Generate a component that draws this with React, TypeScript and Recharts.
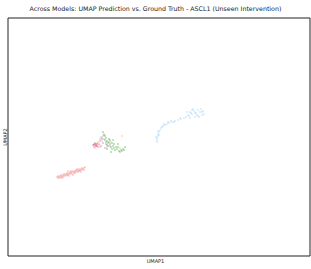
import React from 'react';
import {
  ScatterChart,
  Scatter,
  XAxis,
  YAxis,
  ReferenceArea,
} from 'recharts';

// UMAP coordinates
const groundTruth = [
  [4.9, 7.9], [5.0, 8.0], [5.1, 7.9], [5.2, 8.0], [5.3, 8.1], [5.3, 7.9], [5.4, 8.0], [5.5, 8.1],
  [5.6, 8.0], [5.6, 8.2], [5.7, 8.1], [5.8, 8.2], [5.8, 8.0], [5.9, 8.3], [6.0, 8.2], [6.0, 8.1],
  [6.1, 8.3], [6.2, 8.4], [6.2, 8.2], [6.3, 8.3], [6.4, 8.4], [6.4, 8.2], [6.5, 8.5], [6.6, 8.4],
  [6.6, 8.3], [6.7, 8.5], [6.8, 8.6], [6.8, 8.4], [6.9, 8.5], [7.0, 8.6], [7.0, 8.4], [7.1, 8.7],
  [7.2, 8.6], [7.2, 8.5], [7.3, 8.7], [7.4, 8.8], [7.4, 8.6], [7.5, 8.7], [7.6, 8.8], [7.7, 8.9],
  [5.5, 7.9], [5.9, 8.1], [6.3, 8.5], [6.7, 8.3], [7.1, 8.5], [5.2, 7.8], [6.1, 8.0], [6.9, 8.7],
  [7.6, 8.6], [5.0, 7.8], [5.4, 7.8], [6.5, 8.1], [7.3, 8.4], [6.0, 8.5],
];

const modelA = [
  [14.9, 11.6], [14.9, 11.8], [15.0, 12.0], [15.0, 12.2], [15.1, 12.4], [15.2, 12.6], [15.3, 12.8],
  [15.5, 13.0], [15.7, 13.1], [15.9, 13.2], [16.1, 13.3], [16.4, 13.4], [16.7, 13.5], [17.0, 13.6],
  [17.3, 13.7], [17.6, 13.8], [14.8, 11.9], [15.0, 12.5], [15.4, 12.9], [16.0, 13.4], [16.6, 13.4],
  [17.2, 13.8], [14.9, 11.4], [15.1, 12.1], [15.6, 13.2], [16.3, 13.5],
  [18.0, 14.1], [18.2, 14.4], [18.4, 14.2], [18.6, 14.5], [18.8, 14.3], [19.0, 14.6], [19.2, 14.4],
  [19.4, 14.1], [18.7, 13.9], [18.2, 13.8], [19.1, 13.9], [19.5, 14.5], [17.9, 14.4], [18.5, 14.7],
  [18.9, 14.1], [19.3, 14.7], [18.1, 14.0], [19.6, 14.2], [18.3, 14.3], [18.7, 14.3], [17.8, 13.9],
  [19.0, 14.0], [18.4, 14.6], [19.4, 14.4],
];

const modelB = [
  [9.5, 12.4], [9.6, 12.1], [9.7, 11.6], [9.8, 11.4], [9.9, 11.5], [10.0, 11.3], [10.1, 11.4],
  [10.2, 11.2], [10.0, 11.0], [10.3, 10.9], [10.4, 10.7], [10.6, 10.8], [10.7, 10.6], [10.5, 11.0],
  [10.9, 10.7], [11.1, 10.5], [11.3, 10.6], [11.5, 10.7], [10.8, 10.9], [10.2, 11.6], [9.8, 11.8],
  [10.4, 11.3], [11.0, 10.9], [11.2, 10.4], [9.9, 11.1], [9.7, 12.0], [10.1, 11.7], [10.6, 11.2],
  [11.4, 10.5], [11.6, 10.6], [10.5, 11.6], [11.0, 11.2], [11.7, 10.9], [9.9, 10.7], [10.3, 10.4],
];

const modelC = [
  [8.5, 11.1], [8.7, 11.3], [8.9, 11.0], [9.1, 11.2], [9.3, 11.0], [9.5, 11.3], [9.2, 11.5],
  [8.8, 11.1], [9.7, 10.8], [10.2, 11.0], [9.0, 10.9], [9.4, 11.7], [8.6, 10.9], [9.8, 11.2],
];

const modelD = [
  [8.6, 11.2], [8.7, 10.8], [8.9, 11.3], [9.1, 11.1], [9.2, 10.9], [8.8, 11.0], [9.4, 11.5],
  [9.6, 12.2], [10.3, 11.4], [11.2, 10.8], [9.0, 11.4], [11.4, 12.0], [9.9, 10.9],
];

const modelE = [[8.6, 11.1], [8.7, 11.2], [8.8, 11.0], [8.9, 11.2]];

const modelF = [[9.3, 11.9], [9.4, 11.8], [9.5, 12.0], [9.6, 11.7], [9.2, 11.7]];

const toPts = (arr: number[][]) => arr.map(([x, y]) => ({ x, y }));

const dot = (r: number, op: number) => (props: any) => (
  <circle cx={props.cx} cy={props.cy} r={r} fill={props.fill} fillOpacity={op} />
);

const series = [
  { name: 'Ground Truth', data: groundTruth, color: '#f08080' },
  { name: 'Model A', data: modelA, color: '#87cefa' },
  { name: 'Model B', data: modelB, color: '#2ca02c' },
  { name: 'Model C', data: modelC, color: '#ba55d3' },
  { name: 'Model D', data: modelD, color: '#f4a460' },
  { name: 'Model E', data: modelE, color: '#d62728' },
  { name: 'Model F', data: modelF, color: '#a0a0a0' },
];

export default function App() {
  return (
    <div style={{ position: 'fixed', left: 0, top: 0, width: 311, height: 269, background: '#fff', fontFamily: 'DejaVu Sans' }}>
      <div style={{ position: 'absolute', top: 5, left: 0, width: 311, textAlign: 'center', fontSize: 6.3, color: '#222' }}>
        Across Models: UMAP Prediction vs. Ground Truth - ASCL1 (Unseen Intervention)
      </div>
      <ScatterChart width={311} height={269} margin={{ top: 18, right: 1, bottom: 13, left: 8 }}>
        <XAxis type="number" dataKey="x" domain={[0, 30.2]} hide />
        <YAxis type="number" dataKey="y" domain={[0, 23.8]} hide />
        <ReferenceArea x1={0} x2={30.2} y1={0} y2={23.8} fill="none" stroke="#222" strokeWidth={1} />
        {series.map((s) => (
          <Scatter
            key={s.name}
            name={s.name}
            data={toPts(s.data)}
            fill={s.color}
            shape={dot(0.7, 0.8)}
            isAnimationActive={false}
          />
        ))}
      </ScatterChart>
      <div style={{ position: 'absolute', top: 258, left: 0, width: 311, textAlign: 'center', fontSize: 5, color: '#222' }}>
        UMAP1
      </div>
      <div
        style={{
          position: 'absolute',
          left: 5,
          top: 137,
          fontSize: 5,
          color: '#222',
          transform: 'translate(-50%, -50%) rotate(-90deg)',
          whiteSpace: 'nowrap',
        }}
      >
        UMAP2
      </div>
    </div>
  );
}
